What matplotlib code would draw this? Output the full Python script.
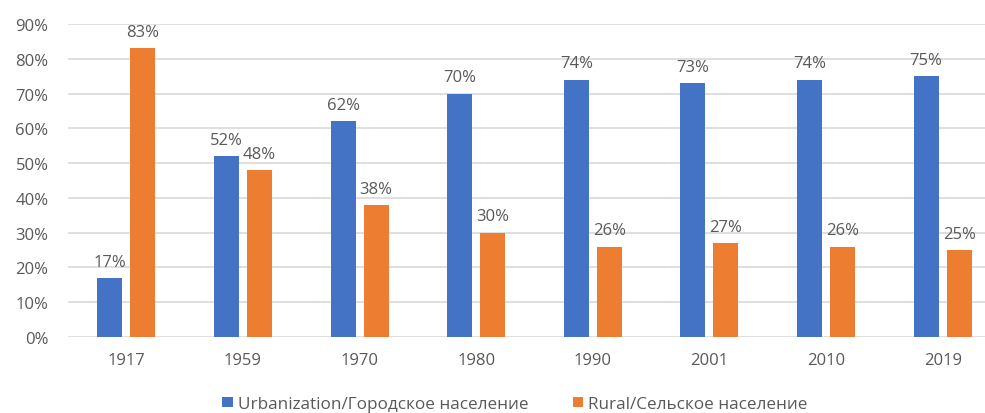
import numpy as np
import matplotlib.pyplot as plt

years = ['1917', '1959', '1970', '1980', '1990', '2001', '2010', '2019']
urban = [17, 52, 62, 70, 74, 73, 74, 75]
rural = [83, 48, 38, 30, 26, 27, 26, 25]

plt.rcParams['font.family'] = ['Open Sans', 'DejaVu Sans']
gray = '#595959'

fig = plt.figure(figsize=(9.85, 4.14), dpi=100)
ax = fig.add_axes([68 / 985, (414 - 338) / 414, (1001 - 68) / 985, (338 - 25) / 414])

x = np.arange(len(years))
w = 0.215
off = 0.1415
b1 = ax.bar(x - off, urban, w, color='#4472C4', label='Urbanization/Городское население', zorder=3)
b2 = ax.bar(x + off, rural, w, color='#ED7D31', label='Rural/Сельское население', zorder=3)

for bars, vals in ((b1, urban), (b2, rural)):
    for r, v in zip(bars, vals):
        ax.annotate(f'{v}%', (r.get_x() + r.get_width() / 2, v), xytext=(0, 6),
                    textcoords='offset points', ha='center', va='bottom',
                    fontsize=12, color=gray)

ax.set_xlim(-0.5, len(years) - 0.5)
ax.set_ylim(0, 90)
ax.set_yticks(range(0, 91, 10))
ax.set_yticklabels([f'{t}%' for t in range(0, 91, 10)])
ax.set_xticks(x)
ax.set_xticklabels(years)
ax.tick_params(axis='both', length=0, labelsize=12, labelcolor=gray)
ax.tick_params(axis='x', pad=11)
ax.tick_params(axis='y', pad=14)
ax.grid(axis='y', color='#D9D9D9', linewidth=1.2, zorder=0)
for s in ax.spines.values():
    s.set_visible(False)

fig.legend(loc='center', bbox_to_anchor=(515 / 985, (414 - 405) / 414), ncol=2,
           frameon=False, fontsize=12.3, labelcolor=gray, handlelength=0.6,
           handleheight=0.6, handletextpad=0.3, columnspacing=2.6)

fig.savefig('out.png', dpi=100)
